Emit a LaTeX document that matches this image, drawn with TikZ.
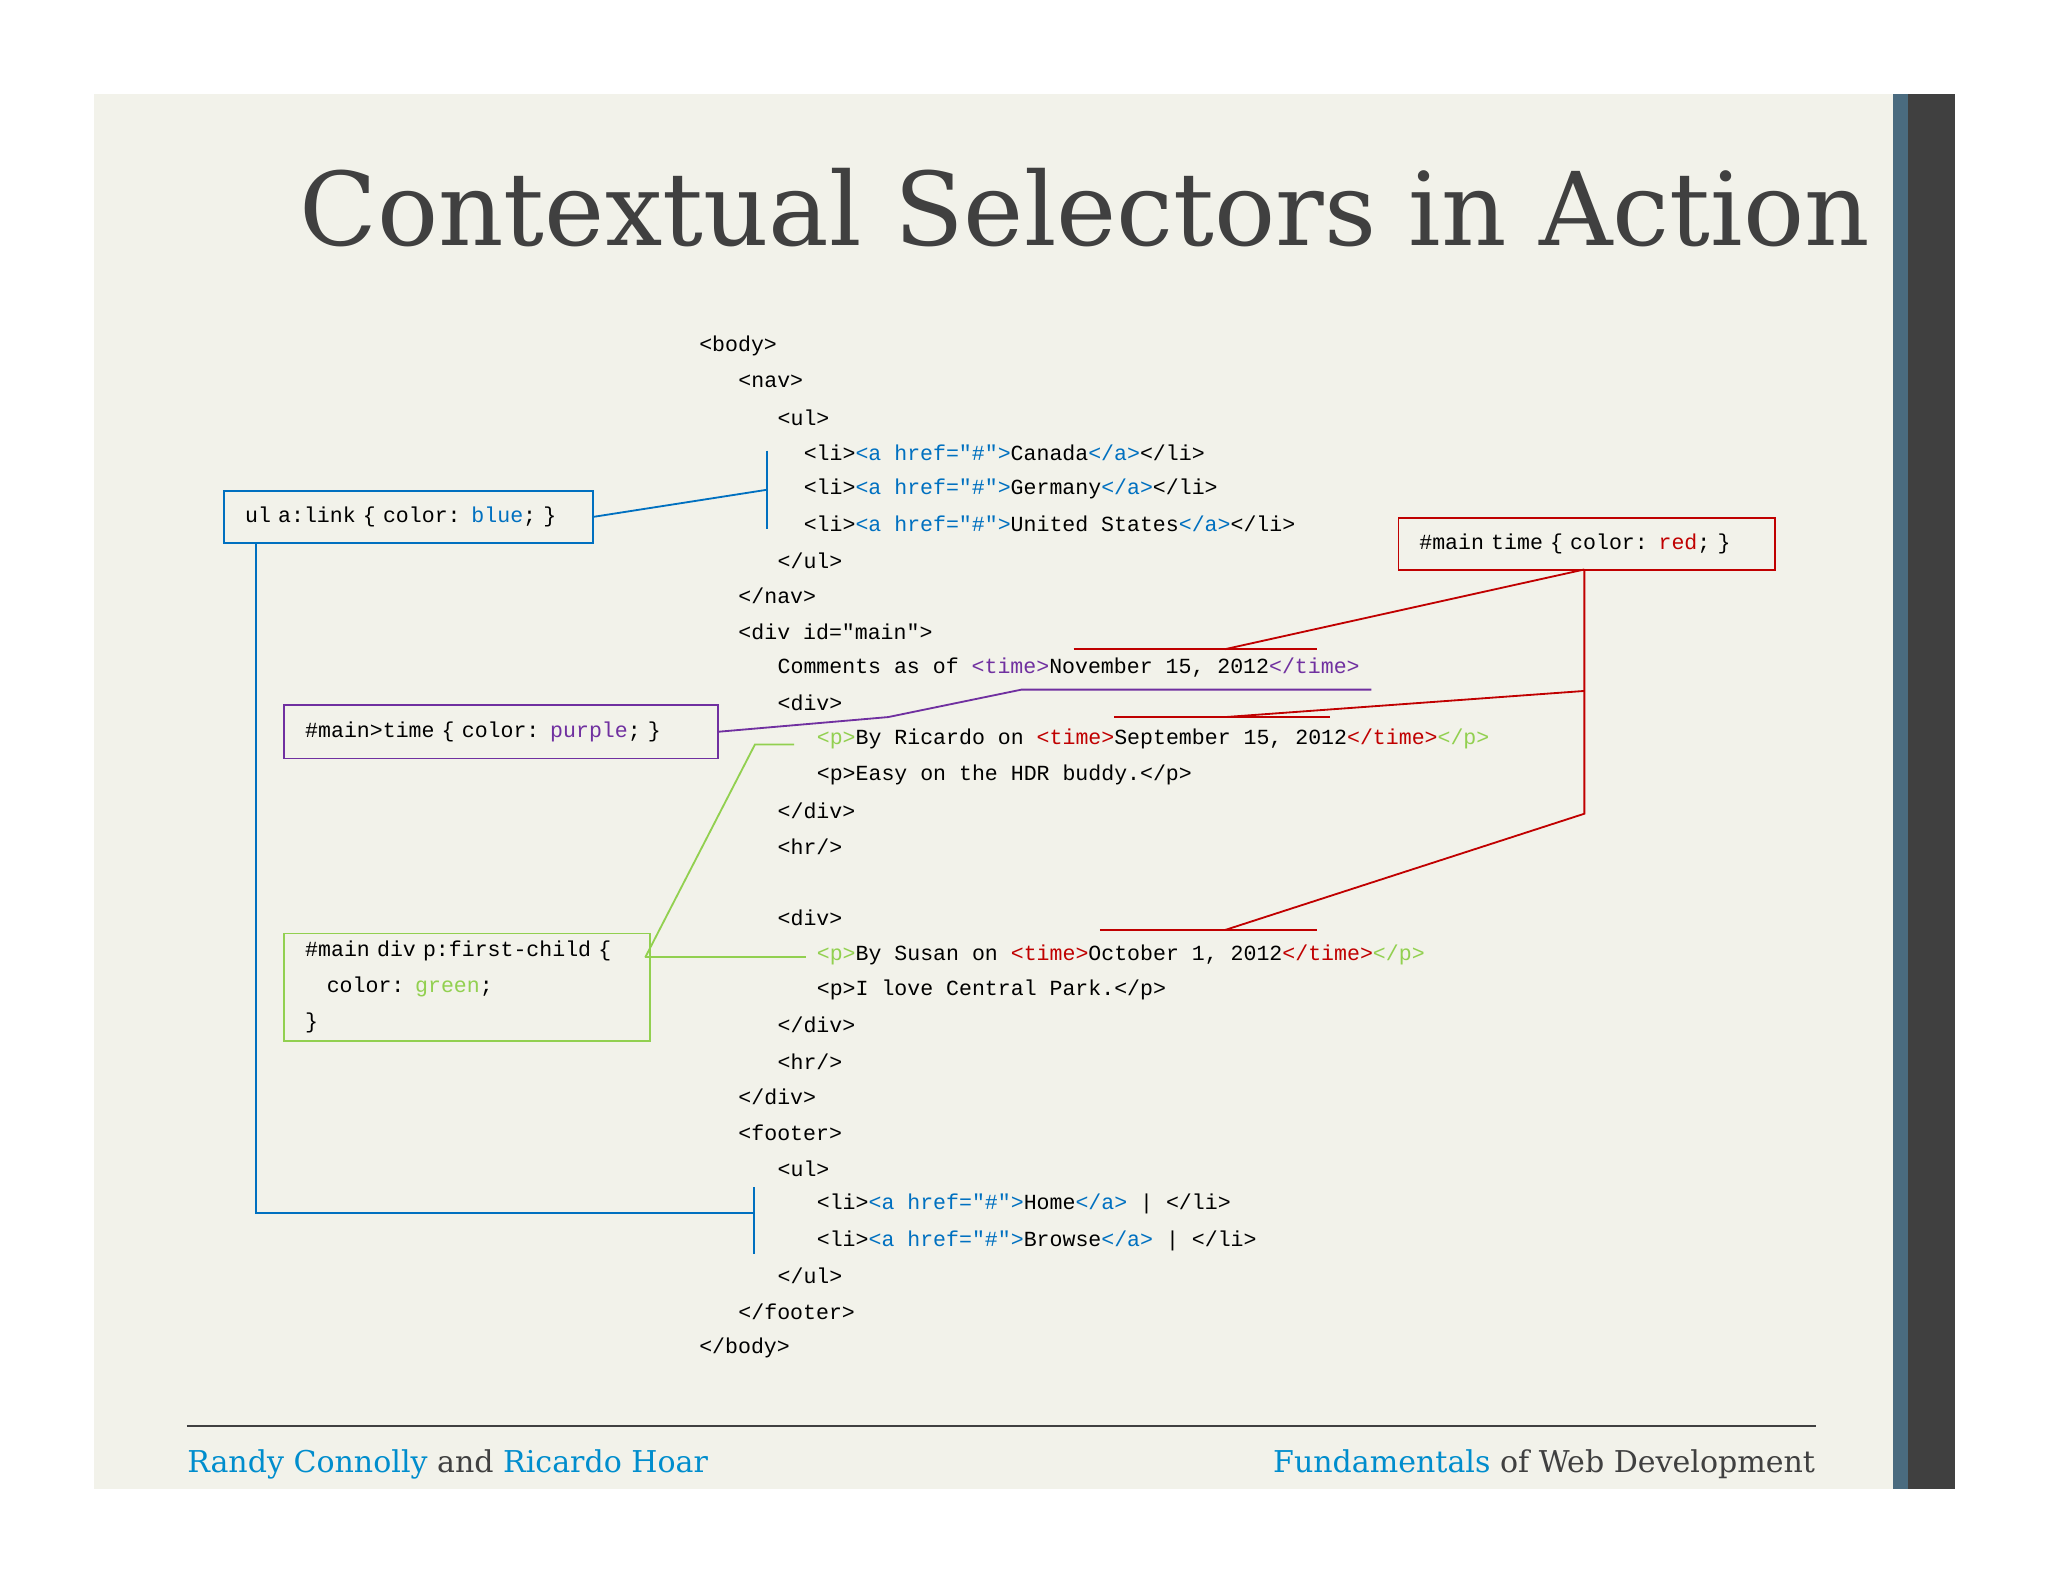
\documentclass[tikz,border=0pt]{standalone}
\usepackage{fontspec}
\setmonofont{Liberation Mono}
\newfontfamily\slab{DejaVu Serif}
\definecolor{bg}{HTML}{F2F2EA}
\definecolor{cb}{HTML}{0070C0}
\definecolor{cr}{HTML}{C00000}
\definecolor{cp}{HTML}{7030A0}
\definecolor{cg}{HTML}{92D050}
\definecolor{dk}{HTML}{404040}
\definecolor{teal}{HTML}{4A6B7F}
\newcommand{\B}[1]{\textcolor{cb}{#1}}
\newcommand{\R}[1]{\textcolor{cr}{#1}}
\newcommand{\Pu}[1]{\textcolor{cp}{#1}}
\newcommand{\G}[1]{\textcolor{cg}{#1}}
\begin{document}
\begin{tikzpicture}[x=0.5pt,y=-0.5pt,
 code/.style={anchor=west,inner sep=0,font=\ttfamily\fontsize{8.25}{10}\selectfont},
 sel/.style={draw,line width=0.7pt,anchor=north west,inner sep=0,align=left,font=\ttfamily\fontsize{8.25}{13.7}\selectfont},
 con/.style={line width=0.7pt}]
\useasboundingbox (0,0) rectangle (1568,1211);
\fill[white] (0,0) rectangle (1568,1211);
\fill[bg] (72,72) rectangle (1449,1140);
\fill[teal] (1449,72) rectangle (1461,1140);
\fill[dk] (1461,72) rectangle (1497,1140);
\node[anchor=base east,inner sep=0,text=dk] (title) at (1432,188) {\resizebox{601pt}{!}{\slab Contextual Selectors in Action}};
% code
\node[code] (l1) at (535,265) {<body>};
\node[code] (l2) at (565,292) {<nav>};
\node[code] (l3) at (595,320) {<ul>};
\node[code] (l4) at (615,347) {<li>\B{<a href="\#">}Canada\B{</a>}</li>};
\node[code] (l5) at (615,374) {<li>\B{<a href="\#">}Germany\B{</a>}</li>};
\node[code] (l6) at (615,401) {<li>\B{<a href="\#">}United States\B{</a>}</li>};
\node[code] (l7) at (595,429) {</ul>};
\node[code] (l8) at (565,456) {</nav>};
\node[code] (l9) at (565,484) {<div id="main">};
\node[code] (l10) at (595,511) {Comments as of \Pu{<time>}November 15, 2012\Pu{</time>}};
\node[code] (l11) at (595,538) {<div>};
\node[code] (l12) at (625,566) {\G{<p>}By Ricardo on \R{<time>}September 15, 2012\R{</time>}\G{</p>}};
\node[code] (l13) at (625,593) {<p>Easy on the HDR buddy.</p>};
\node[code] (l14) at (595,621) {</div>};
\node[code] (l15) at (595,648) {<hr/>};
\node[code] (l16) at (595,703) {<div>};
\node[code] (l17) at (625,731) {\G{<p>}By Susan on \R{<time>}October 1, 2012\R{</time>}\G{</p>}};
\node[code] (l18) at (625,758) {<p>I love Central Park.</p>};
\node[code] (l19) at (595,785) {</div>};
\node[code] (l20) at (595,813) {<hr/>};
\node[code] (l21) at (565,840) {</div>};
\node[code] (l22) at (565,867) {<footer>};
\node[code] (l23) at (595,895) {<ul>};
\node[code] (l24) at (625,922) {<li>\B{<a href="\#">}Home\B{</a>} | </li>};
\node[code] (l25) at (625,950) {<li>\B{<a href="\#">}Browse\B{</a>} | </li>};
\node[code] (l26) at (595,977) {</ul>};
\node[code] (l27) at (565,1004) {</footer>};
\node[code] (l28) at (535,1032) {</body>};
% selector boxes
\node[sel,draw=cb,minimum width=141pt,minimum height=20pt,text width=125pt,inner xsep=8pt] (sb) at (171,375) {ul a:link \{ color: \B{blue}; \}};
\node[sel,draw=cr,minimum width=143.5pt,minimum height=20pt,text width=128pt,inner xsep=8pt] (sr) at (1070,396) {\#main time \{ color: \R{red}; \}};
\node[sel,draw=cp,minimum width=164pt,minimum height=20.5pt,text width=150pt,inner xsep=8pt] (sp) at (217,539) {\#main>time \{ color: \Pu{purple}; \}};
\node[sel,draw=cg,minimum width=138.5pt,minimum height=41pt,text width=124pt,inner xsep=8pt] (sg) at (217,714) {\#main div p:first-child \{\\\ \ \ color: \G{green};\\\}};
% blue connectors
\coordinate (b1a) at (587,345); \coordinate (b1b) at (587,405); \coordinate (b1m) at (587,375);
\draw[con,cb] (b1a) -- (b1b);
\draw[con,cb] (sb.east) -- (b1m);
\coordinate (b2a) at (577,909); \coordinate (b2b) at (577,960); \coordinate (b2m) at (577,929);
\draw[con,cb] (b2a) -- (b2b);
\draw[con,cb] (196,415) -- (196,929) -- (b2m);
% red connectors
\coordinate (r0) at (1213,436);
\coordinate (r1) at (938,497); \coordinate (r2) at (938,549); \coordinate (r3) at (938,712);
\draw[con,cr] (822,497) -- (1008,497);
\draw[con,cr] (853,549) -- (1018,549);
\draw[con,cr] (842,712) -- (1008,712);
\draw[con,cr] (r0) -- (r1);
\draw[con,cr] (r0) -- (1213,623) -- (r3);
\draw[con,cr] (1213,529) -- (r2);
% purple
\coordinate (p1) at (1050,528);
\draw[con,cp] (sp.east) -- (680,549) -- (782,528) -- (p1);
% green
\coordinate (g0) at (494,733);
\coordinate (g1) at (608,570); \coordinate (g2) at (617,733);
\draw[con,cg] (g0) -- (578,570) -- (g1);
\draw[con,cg] (g0) -- (g2);
% footer
\draw[line width=0.8pt,dk] (143,1092) -- (1390,1092);
\node[anchor=base west,inner sep=0,font=\slab\fontsize{11.5}{12}\selectfont,text=dk] (fl) at (143,1127) {\textcolor{cb!80!cyan}{Randy Connolly} and \textcolor{cb!80!cyan}{Ricardo Hoar}};
\node[anchor=base east,inner sep=0,font=\slab\fontsize{11.5}{12}\selectfont,text=dk] (fr) at (1390,1127) {\textcolor{cb!80!cyan}{Fundamentals} of Web Development};
\end{tikzpicture}
\end{document}
